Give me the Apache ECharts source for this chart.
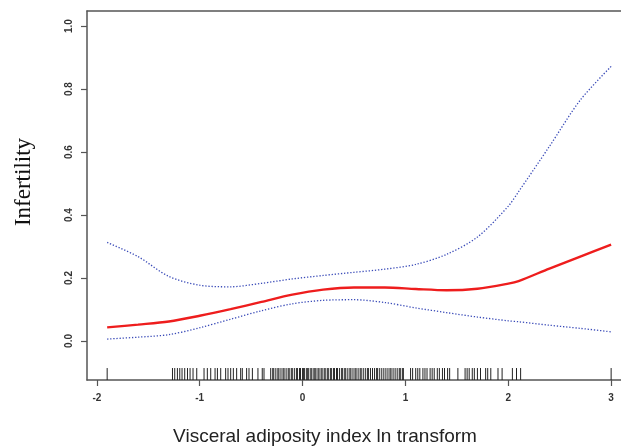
<!DOCTYPE html>
<html>
  <head>
    <meta charset="utf-8" />
    <title>Infertility vs VAI</title>
    <script src="https://cdn.jsdelivr.net/npm/echarts@6.0.0/dist/echarts.min.js"></script>
    <style>
      body { margin: 0; padding: 0; background: #fff; }
      #main { width: 621px; height: 448px; }
    </style>
  </head>
  <body>
    <div id="main"></div>
    <script type="text/javascript">
      // x grid for the fitted curve and its confidence band
      var xs = [-1.9, -1.6, -1.3, -1.0, -0.7, -0.4, -0.1, 0.2, 0.5, 0.8, 1.1, 1.4, 1.7, 2.0, 2.1, 2.4, 2.7, 3.0];
      var fit = [0.043, 0.052, 0.062, 0.080, 0.101, 0.124, 0.147, 0.163, 0.170, 0.170, 0.165, 0.161, 0.166, 0.182, 0.190, 0.230, 0.268, 0.306];
      var upper = [0.313, 0.268, 0.205, 0.177, 0.172, 0.183, 0.197, 0.208, 0.218, 0.228, 0.243, 0.275, 0.330, 0.428, 0.474, 0.618, 0.765, 0.872];
      var lower = [0.006, 0.012, 0.020, 0.042, 0.069, 0.096, 0.118, 0.129, 0.131, 0.122, 0.105, 0.090, 0.076, 0.064, 0.061, 0.050, 0.040, 0.029];

      // observed x values (rug)
      var rugX = [
        -1.90,
        -1.265, -1.243, -1.217, -1.194, -1.172, -1.146, -1.119, -1.094, -1.065, -1.029,
        -0.958, -0.926, -0.893, -0.851, -0.828, -0.796, -0.748, -0.725, -0.699, -0.673,
        -0.641, -0.602, -0.586, -0.544, -0.521, -0.488, -0.434, -0.392, -0.375,
        -0.31, -0.29, -0.28, -0.26, -0.24, -0.23, -0.21, -0.19, -0.18, -0.16, -0.14, -0.13,
        -0.11, -0.10, -0.08, -0.06, -0.05, -0.03, -0.02, 0.00, 0.01, 0.02, 0.04, 0.05, 0.06,
        0.08, 0.09, 0.11, 0.12, 0.13, 0.15, 0.16, 0.18, 0.19, 0.21, 0.22, 0.24, 0.25, 0.27,
        0.28, 0.30, 0.31, 0.33, 0.34, 0.36, 0.38, 0.39, 0.41, 0.42, 0.44, 0.46, 0.47, 0.49,
        0.51, 0.52, 0.54, 0.56, 0.57, 0.59, 0.61, 0.63, 0.64, 0.66, 0.68, 0.70, 0.72, 0.73,
        0.75, 0.77, 0.79, 0.81, 0.83, 0.85, 0.86, 0.88, 0.90, 0.92, 0.94, 0.95, 0.97, 0.98,
        1.05, 1.07, 1.10, 1.12, 1.14, 1.17, 1.19, 1.21, 1.24, 1.26, 1.28, 1.31, 1.33, 1.36,
        1.38, 1.41, 1.43, 1.51, 1.58, 1.60, 1.62, 1.65, 1.67, 1.70, 1.73, 1.78, 1.80, 1.83,
        1.90, 1.94, 2.04, 2.08, 2.12,
        3.00
      ];

      var xTicks = [-2, -1, 0, 1, 2, 3];
      var yTicks = [0, 0.2, 0.4, 0.6, 0.8, 1.0];

      var X_MIN = -2.096, X_MAX = 3.096;
      var Y_MIN = -0.124, Y_MAX = 1.048;
      var RUG_TOP = -0.086;

      function pairs(ys) {
        return xs.map(function (x, i) { return [x, ys[i]]; });
      }

      var myChart = echarts.init(document.getElementById("main"));

      var tickLabel = {
        fontFamily: "Liberation Sans, Arial, sans-serif",
        fontSize: 10,
        fontWeight: "bold",
        color: "#333",
      };
      var frameLine = { show: true, onZero: false, lineStyle: { color: "#555", width: 1.5 } };

      var option = {
        animation: false,
        backgroundColor: "#fff",
        grid: { left: 87, top: 11, right: 0, bottom: 68 },
        xAxis: [
          {
            type: "value",
            min: X_MIN,
            max: X_MAX,
            axisLine: frameLine,
            splitLine: { show: false },
            axisTick: {
              show: true,
              length: 6,
              customValues: xTicks,
              lineStyle: { color: "#555", width: 1.2 },
            },
            axisLabel: Object.assign({ margin: 13, customValues: xTicks }, tickLabel),
          },
          {
            // top frame line only
            type: "value",
            position: "top",
            min: X_MIN,
            max: X_MAX,
            axisLine: frameLine,
            axisTick: { show: false },
            axisLabel: { show: false },
            splitLine: { show: false },
          },
        ],
        yAxis: {
          type: "value",
          min: Y_MIN,
          max: Y_MAX,
          axisLine: frameLine,
          splitLine: { show: false },
          axisTick: {
            show: true,
            length: 6,
            customValues: yTicks,
            lineStyle: { color: "#555", width: 1.2 },
          },
          axisLabel: Object.assign(
            {
              margin: 13,
              rotate: 90,
              customValues: yTicks,
              formatter: function (v) { return v.toFixed(1); },
            },
            tickLabel
          ),
        },
        graphic: [
          {
            type: "text",
            x: 24,
            y: 182,
            rotation: Math.PI / 2,
            style: {
              text: "Infertility",
              fontFamily: "Liberation Serif, Times New Roman, serif",
              fontSize: 23,
              fill: "#111",
              align: "center",
              verticalAlign: "middle",
            },
          },
          {
            type: "text",
            x: 325,
            y: 437,
            style: {
              text: "Visceral adiposity index ln transform",
              fontFamily: "Liberation Sans, Arial, sans-serif",
              fontSize: 19,
              fill: "#222",
              align: "center",
              verticalAlign: "middle",
            },
          },
        ],
        series: [
          {
            name: "upper",
            type: "line",
            data: pairs(upper),
            smooth: 0.3,
            showSymbol: false,
            lineStyle: { color: "#3a4bb8", width: 1.3, type: [1.3, 1.8] },
          },
          {
            name: "lower",
            type: "line",
            data: pairs(lower),
            smooth: 0.3,
            showSymbol: false,
            lineStyle: { color: "#3a4bb8", width: 1.3, type: [1.3, 1.8] },
          },
          {
            name: "fit",
            type: "line",
            data: pairs(fit),
            smooth: 0.3,
            showSymbol: false,
            lineStyle: { color: "#ee1d1d", width: 2.4 },
          },
          {
            name: "rug",
            type: "custom",
            data: rugX.map(function (v) { return [v, Y_MIN]; }),
            renderItem: function (params, api) {
              var x = api.value(0);
              var p0 = api.coord([x, Y_MIN]);
              var p1 = api.coord([x, RUG_TOP]);
              return {
                type: "line",
                shape: { x1: p0[0], y1: p0[1], x2: p1[0], y2: p1[1] },
                style: { stroke: "#222", lineWidth: 1 },
              };
            },
          },
        ],
      };

      myChart.setOption(option);
    </script>
  </body>
</html>
